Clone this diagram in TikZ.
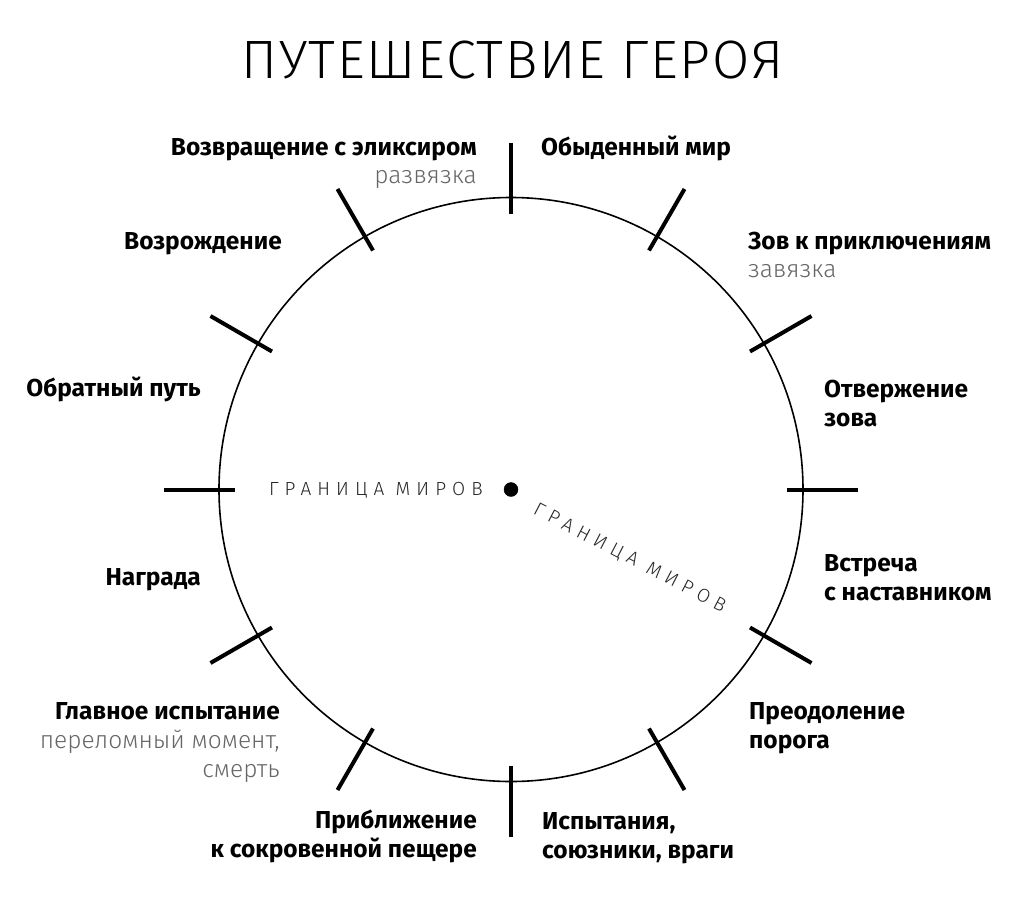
\documentclass[tikz,border=0pt]{standalone}
\usepackage{fontspec}
\setmainfont{Fira Sans}
\newfontfamily\lightfont{Fira Sans Light}
\newfontfamily\borderfont{Fira Sans Light}[LetterSpace=32]
\newfontfamily\titlefont{Fira Sans Light}[LetterSpace=3]

\tikzset{
    stage/.style={font=\bfseries\fontsize{24.5}{29}\selectfont, inner sep=0pt},
    note/.style={font=\lightfont\fontsize{24.5}{29}\selectfont, text=black!60, inner sep=0pt},
    border/.style={font=\borderfont\fontsize{19}{23}\selectfont, text=black!85, inner sep=0pt},
    stagetick/.style={line width=4pt},
}

\begin{document}
\begin{tikzpicture}[x=1pt,y=1pt]
    \useasboundingbox (-511,-424.5) rectangle (513,489.5);

    % title
    \node[font=\titlefont\fontsize{54}{60}\selectfont, inner sep=0pt, anchor=base] (title) at (1.5,410.5) {ПУТЕШЕСТВИЕ ГЕРОЯ};

    % circle
    \draw[line width=1.6pt] (0,0) circle (292);
    \foreach \a in {0,30,...,330} \draw[stagetick] (\a:276) -- (\a:347);
    \filldraw (0,0) circle (7);

    % border of worlds
    \node[border, anchor=base east] (bleft) at (-28,-5.5) {ГРАНИЦА МИРОВ};
    \node[border, rotate=-27.5, anchor=north west] (bright) at (-24:30) {ГРАНИЦА МИРОВ};

    % right half
    \node[stage, anchor=base west] (ordinary) at (30,334.5) {Обыденный мир};
    \node[stage, anchor=base west] (call) at (237,240.5) {Зов к приключениям};
    \node[note, anchor=base west] (callnote) at ([yshift=-28]call.base west) {завязка};
    \node[stage, anchor=base west, align=left] (refusal) at (313,63.5) {Отвержение\\зова};
    \node[stage, anchor=base west, align=left] (mentor) at (313,-110.5) {Встреча\\с наставником};
    \node[stage, anchor=base west, align=left] (threshold) at (238,-258.5) {Преодоление\\порога};
    \node[stage, anchor=base west, align=left] (tests) at (31,-369) {Испытания,\\союзники, враги};

    % left half
    \node[stage, anchor=base east, align=right] (cave) at (-34,-367.5) {Приближение\\к сокровенной пещере};
    \node[stage, anchor=base east] (ordeal) at (-231,-229.5) {Главное испытание};
    \node[note, anchor=base east, align=right] (ordealnote) at ([yshift=-58]ordeal.base east) {переломный момент,\\смерть};
    \node[stage, anchor=base east] (reward) at (-310,-95.5) {Награда};
    \node[stage, anchor=base east] (road) at (-310,93.5) {Обратный путь};
    \node[stage, anchor=base east] (rebirth) at (-229,240.5) {Возрождение};
    \node[stage, anchor=base east] (elixir) at (-34,334.5) {Возвращение с эликсиром};
    \node[note, anchor=base east] (elixirnote) at ([yshift=-28]elixir.base east) {развязка};
\end{tikzpicture}
\end{document}
